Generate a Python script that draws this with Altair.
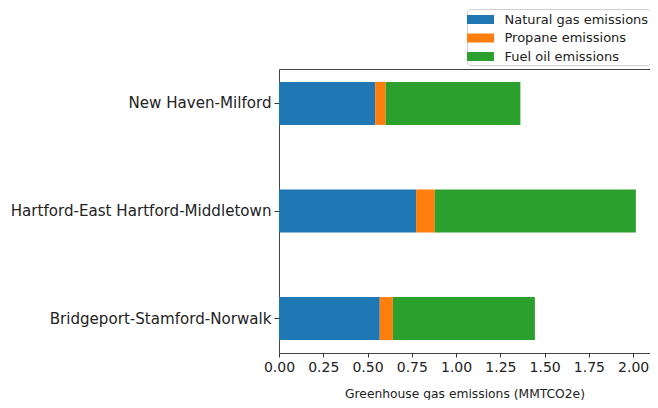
import altair as alt
import pandas as pd

regions = ["New Haven-Milford", "Hartford-East Hartford-Middletown", "Bridgeport-Stamford-Norwalk"]
natural_gas = [0.543, 0.774, 0.569]
propane = [0.060, 0.106, 0.074]
fuel_oil = [0.760, 1.135, 0.802]
series = ["Natural gas emissions", "Propane emissions", "Fuel oil emissions"]
colors = ["#1f77b4", "#ff7f0e", "#2ca02c"]
x_ticks = [0, 0.25, 0.5, 0.75, 1.0, 1.25, 1.5, 1.75, 2.0]

rows = []
for i, r in enumerate(regions):
    for k, (name, vals) in enumerate(zip(series, [natural_gas, propane, fuel_oil])):
        rows.append({"region": r, "source": name, "value": vals[i], "order": k})
df = pd.DataFrame(rows)

FONT = "DejaVu Sans"

chart = alt.Chart(df).mark_bar().encode(
    y=alt.Y("region:N", sort=regions, title=None,
            scale=alt.Scale(paddingInner=0.6, paddingOuter=0.12),
            axis=alt.Axis(labelFontSize=15.1, labelColor="#222", labelFont=FONT,
                          tickColor="#333", tickSize=5, domain=False, labelPadding=3,
                          labelLimit=400)),
    x=alt.X("value:Q", stack="zero", title="Greenhouse gas emissions (MMTCO2e)",
            scale=alt.Scale(domain=[0, 2.095], nice=False, zero=True),
            axis=alt.Axis(values=x_ticks, format=".2f", labelFontSize=14, labelColor="#222",
                          labelFont=FONT, tickColor="#333", tickSize=4, grid=False,
                          domain=False, titleFontSize=12.3, titleFont=FONT,
                          titleFontWeight="normal", titleColor="#222", titlePadding=13,
                          labelPadding=3, labelFlush=False)),
    color=alt.Color("source:N", sort=series,
                    scale=alt.Scale(domain=series, range=colors),
                    legend=alt.Legend(title=None, orient="none", legendX=188, legendY=-60,
                                      symbolType="M-1.5,-0.5H1.5V0.5H-1.5Z", symbolSize=324,
                                      symbolStrokeWidth=0, symbolOffset=3, labelOffset=15,
                                      labelFontSize=13, labelFont=FONT, labelColor="#222",
                                      padding=1.5, rowPadding=2.5, fillColor="white",
                                      strokeColor="#cfcfcf", cornerRadius=3, labelLimit=300)),
    order=alt.Order("order:Q"),
).properties(
    width=371, height=284,
    autosize=alt.AutoSizeParams(type="none"),
    padding={"left": 271, "top": 61, "right": 0, "bottom": 47},
).configure_view(stroke="#444", strokeWidth=1)

chart.save("out.html", embed_options={"renderer": "svg", "actions": False})
